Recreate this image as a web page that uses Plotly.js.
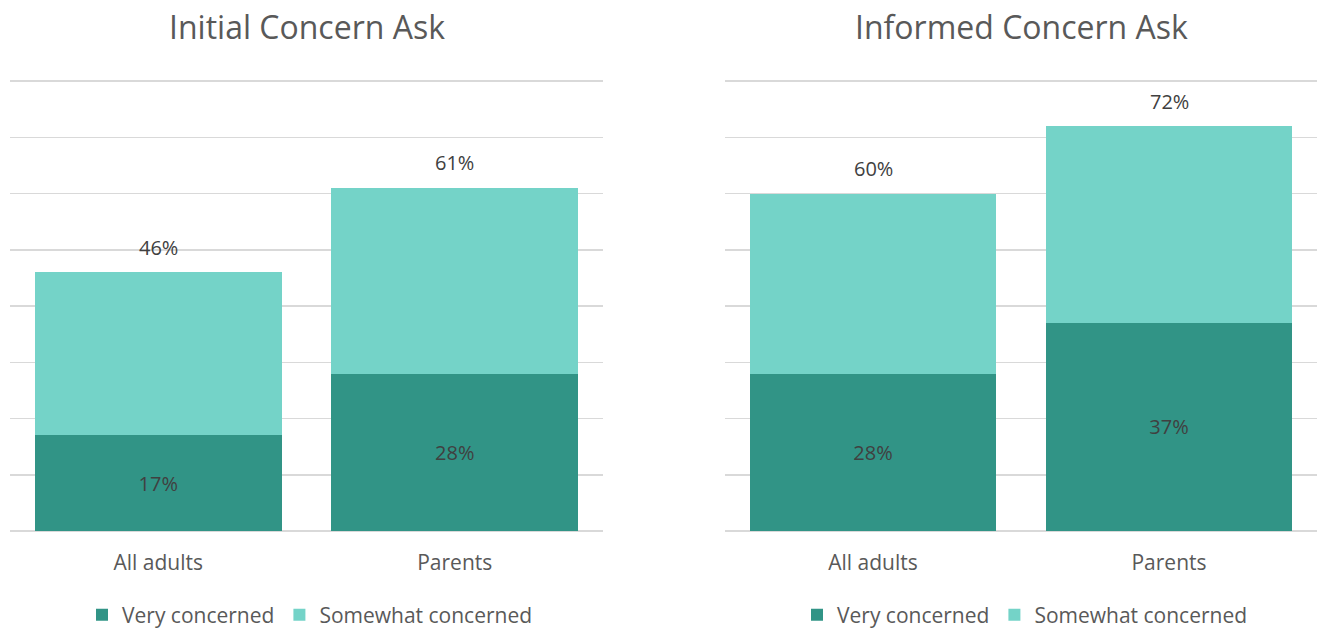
<!DOCTYPE html>
<html><head><meta charset="utf-8">
<script src="https://cdn.plot.ly/plotly-3.0.1.min.js"></script>
<style>html,body{margin:0;padding:0;background:#fff}#chart{width:1317px;height:629px}</style>
</head><body><div id="chart"></div>
<script>
const categories = ["All adults", "Parents"];
const chartTitles = ["Initial Concern Ask", "Informed Concern Ask"];
const initialVery = [17, 28];
const initialTotal = [46, 61];
const informedVery = [28, 37];
const informedTotal = [60, 72];
const seriesNames = ["Very concerned", "Somewhat concerned"];

const darkC = "#319486", lightC = "#74D3C8";
const FONT = "Open Sans, sans-serif";
const txt = "#404040";
function somewhat(total, very){ return total.map((t,i)=>t-very[i]); }

const groups = [
  {very: initialVery, total: initialTotal, xa:"x", ya:"y", leg:"legend"},
  {very: informedVery, total: informedTotal, xa:"x2", ya:"y2", leg:"legend2"}
];
const data = [];
const annotations = [];
groups.forEach((g, gi) => {
  data.push({type:"bar", x:categories, y:g.very, name:seriesNames[0], marker:{color:darkC},
    xaxis:g.xa, yaxis:g.ya, legend:g.leg, text:g.very.map(v=>v+"%"), textposition:"inside",
    insidetextanchor:"middle", textfont:{family:FONT,size:20,color:txt}, hoverinfo:"skip"});
  data.push({type:"bar", x:categories, y:somewhat(g.total,g.very), name:seriesNames[1], marker:{color:lightC},
    xaxis:g.xa, yaxis:g.ya, legend:g.leg, hoverinfo:"skip"});
  g.total.forEach((t,i)=>{
    annotations.push({xref:g.xa, yref:g.ya, x:categories[i], y:t, text:t+"%", showarrow:false,
      yanchor:"middle", yshift:25, font:{family:FONT,size:20,color:txt}});
  });
  annotations.push({xref:(gi===0?"x domain":"x2 domain"), yref:"paper", x:0.5, y:(629-27)/629,
    text:chartTitles[gi], showarrow:false, yanchor:"middle", xanchor:"center",
    font:{family:FONT,size:32,color:"#595959"}});
});

const yax = {range:[-0.4,80.4], dtick:10, showticklabels:false, gridcolor:"#d9d9d9", gridwidth:1.5,
  zeroline:false, domain:[(629-533.25)/629, (629-78.75)/629], fixedrange:true};
const xax = {showline:false, ticks:"", tickfont:{family:FONT,size:21,color:"#595959"}, ticklabelstandoff:15};
const legBase = {orientation:"h", yanchor:"middle", y:(629-615)/629, xanchor:"center",
  font:{family:FONT,size:21,color:"#595959"}, traceorder:"normal", itemwidth:20, bgcolor:"rgba(0,0,0,0)"};

const layout = {
  width:1317, height:629, margin:{l:0,r:0,t:0,b:0,autoexpand:false}, paper_bgcolor:"#fff", plot_bgcolor:"#fff",
  barmode:"stack", bargap:0.167, showlegend:true, font:{family:FONT},
  xaxis:Object.assign({domain:[10/1317, 603/1317], anchor:"y"}, xax),
  xaxis2:Object.assign({domain:[725/1317, 1], anchor:"y2"}, xax),
  yaxis:Object.assign({anchor:"x"}, yax),
  yaxis2:Object.assign({anchor:"x2"}, yax),
  legend:Object.assign({x:310/1317}, legBase),
  legend2:Object.assign({x:1025/1317}, legBase),
  annotations:annotations
};
Plotly.newPlot("chart", data, layout, {displayModeBar:false, staticPlot:true});
</script></body></html>
